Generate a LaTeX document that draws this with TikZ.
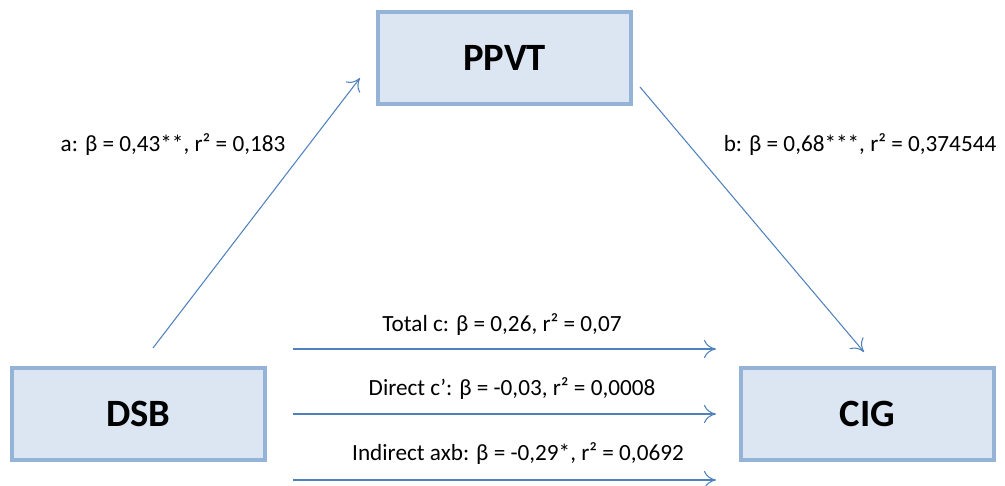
\documentclass[tikz,border=0pt]{standalone}
\usepackage{fontspec}
\setmainfont{Carlito}
\usetikzlibrary{arrows.meta, positioning}
\definecolor{boxfill}{HTML}{DCE6F2}
\definecolor{boxline}{HTML}{95B3D7}
\definecolor{arrowblue}{HTML}{4F81BD}

\begin{document}
\begin{tikzpicture}[
    x=0.02cm, y=-0.02cm,
    var/.style={draw=boxline, line width=1.8pt, fill=boxfill, minimum width=5.06cm, minimum height=1.84cm, font=\fontsize{22}{26}\selectfont\bfseries},
    lbl/.style={font=\fontsize{13.2}{16}\selectfont, inner sep=1pt},
    arr/.style={draw=arrowblue, line width=0.6pt, -{To[length=2.4mm, width=3.6mm]}}
]
\useasboundingbox (0,0) rectangle (1005,486);

\node[var] (ppvt) at (504.5,58) {PPVT};
\node[var] (dsb) at (138.5,414) {DSB};
\node[var] (cig) at (867.5,414) {CIG};

% paths a and b
\coordinate (a0) at (153,348);
\coordinate (a1) at (360,78);
\coordinate (b0) at (640,87);
\coordinate (b1) at (864,352);
\draw[arr] (a0) -- (a1);
\draw[arr] (b0) -- (b1);
\node[lbl] (alab) at (173,145) {a: β = 0,43**, r² = 0,183};
\node[lbl] (blab) at (860,145) {b: β = 0,68***, r² = 0,374544};

% c paths
\coordinate (t0) at (293,349);
\coordinate (t1) at (716,349);
\coordinate (d0) at (293,414);
\coordinate (d1) at (716,414);
\coordinate (i0) at (293,480);
\coordinate (i1) at (716,480);
\draw[arr] (t0) -- (t1);
\draw[arr] (d0) -- (d1);
\draw[arr] (i0) -- (i1);
\node[lbl] (tlab) at (502,325) {Total c: β = 0,26, r² = 0,07};
\node[lbl] (dlab) at (512,389) {Direct c’: β = -0,03, r² = 0,0008};
\node[lbl] (ilab) at (518,454) {Indirect axb: β = -0,29*, r² = 0,0692};
\end{tikzpicture}
\end{document}
